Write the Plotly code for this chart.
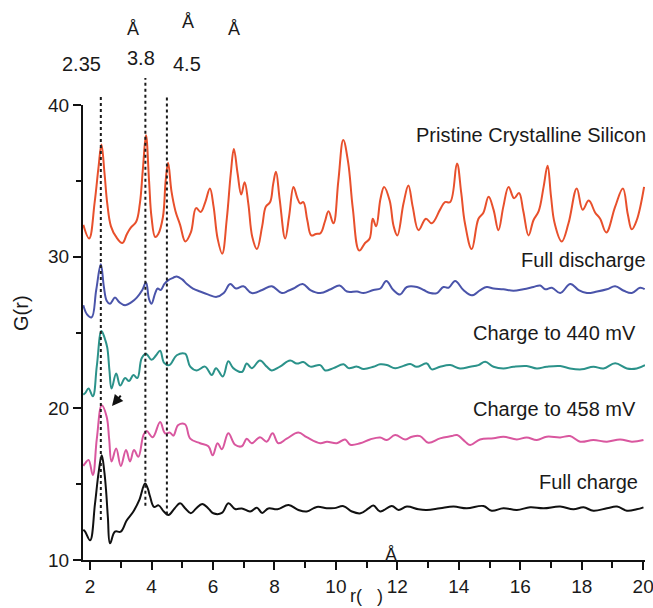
import plotly.graph_objects as go

# ---------------- data ----------------
r_red = [1.78, 1.97, 2.15, 2.27, 2.37, 2.47, 2.56, 2.68, 2.85, 3.05, 3.2, 3.32, 3.5, 3.62, 3.72, 3.82,
         3.92, 4.0, 4.12, 4.22, 4.37, 4.46, 4.54, 4.65, 4.78, 4.93, 5.1, 5.28, 5.45, 5.6, 5.75, 5.9,
         6.02, 6.15, 6.3, 6.45, 6.58, 6.68, 6.8, 6.92, 7.03, 7.15, 7.28, 7.43, 7.6, 7.72, 7.86, 7.96,
         8.05, 8.17, 8.35, 8.48, 8.62, 8.74, 8.84, 8.94, 9.07, 9.2, 9.35, 9.5, 9.64, 9.76, 9.92, 10.08,
         10.24, 10.4, 10.55, 10.76, 10.95, 11.1, 11.2, 11.31, 11.45, 11.57, 11.75, 11.88, 12.0, 12.2,
         12.36, 12.5, 12.69, 12.93, 13.12, 13.39, 13.55, 13.72, 13.94, 14.08, 14.2, 14.42, 14.64, 14.8,
         14.97, 15.13, 15.29, 15.45, 15.62, 15.8, 15.96, 16.1, 16.27, 16.43, 16.6, 16.76, 16.89, 17.0,
         17.12, 17.35, 17.57, 17.84, 18.03, 18.23, 18.44, 18.6, 18.8, 19.09, 19.34, 19.5, 19.63, 19.79,
         20.03]
g_red = [32.1, 31.2, 33.6, 35.8, 37.4, 35.5, 33.5, 32.0, 31.3, 30.9, 31.5, 31.9, 32.3, 33.5, 35.8, 38.0,
         35.0, 32.6, 31.3, 31.5, 32.6, 35.0, 36.2, 34.3, 33.0, 32.1, 31.0, 31.6, 33.2, 32.95, 33.6, 34.5,
         33.3, 31.2, 30.2, 32.5, 35.5, 37.1, 35.5, 34.1, 34.9, 33.5, 31.3, 30.5, 32.0, 33.3, 33.6, 34.8,
         35.6, 33.8, 31.2, 32.7, 34.6, 33.9, 33.5, 33.6, 32.4, 31.4, 31.5, 31.55, 32.3, 33.0, 32.2, 35.0,
         37.7, 36.2, 33.2, 30.4, 30.9, 31.2, 32.5, 32.0, 33.8, 34.6, 33.7, 32.0, 31.4, 33.5,
         34.7, 33.3, 31.75, 32.5, 32.2, 33.1, 33.6, 33.6, 36.15, 34.2, 32.2, 30.5, 32.5, 32.9,
         33.95, 33.1, 31.75, 33.3, 34.6, 33.85, 34.2, 33.0, 31.4, 32.4, 33.0, 34.6, 36.0, 34.0,
         32.2, 31.0, 32.2, 34.5, 33.1, 33.7, 32.9, 32.5, 31.6, 33.3, 34.5, 32.8, 31.8, 32.4,
         34.6]

r_blue = [1.78, 1.9, 2.05, 2.2, 2.35, 2.45, 2.54, 2.65, 2.81, 2.95, 3.14, 3.35, 3.52, 3.7, 3.82, 3.92,
          4.0, 4.12, 4.2, 4.3, 4.42, 4.55, 4.7, 4.82, 5.0, 5.15, 5.35, 5.58, 5.85, 6.12, 6.35, 6.56,
          6.75, 6.99, 7.26, 7.6, 7.91, 8.24, 8.45, 8.62, 8.92, 9.17, 9.49, 9.83, 10.12, 10.36, 10.69,
          10.9, 11.22, 11.45, 11.64, 11.87, 12.09, 12.31, 12.64, 12.86, 13.07, 13.29, 13.5, 13.67, 13.88,
          14.15, 14.42, 14.7, 14.91, 15.13, 15.45, 15.78, 16.1, 16.43, 16.65, 16.81, 17.03, 17.3, 17.63,
          17.9, 18.17, 18.5, 18.82, 19.09, 19.37, 19.63, 19.9, 20.05]
g_blue = [26.8, 26.2, 26.0, 27.8, 29.5, 28.0, 27.1, 26.9, 27.3, 27.0, 26.8, 27.0, 27.3, 27.8, 28.3, 27.2,
          26.9, 27.6, 27.9, 27.8, 28.2, 28.45, 28.6, 28.7, 28.5, 28.2, 27.9, 27.7, 27.5, 27.35, 27.6, 28.2,
          27.9, 28.05, 27.6, 27.8, 28.05, 27.6, 27.75, 27.9, 28.2, 27.8, 27.6, 27.85, 28.1, 27.7, 27.7,
          27.6, 27.8, 27.9, 28.4, 27.8, 27.5, 28.0, 28.0, 27.8, 27.6, 27.6, 28.0, 27.95, 28.4,
          27.8, 27.45, 27.8, 28.0, 27.9, 27.85, 27.75, 27.85, 28.0, 28.1, 27.85, 27.95, 27.6, 28.2,
          27.8, 27.6, 27.7, 27.85, 28.05, 27.75, 27.6, 27.95, 27.85]

r_teal = [1.78, 1.84, 1.95, 2.09, 2.22, 2.37, 2.48, 2.56, 2.63, 2.7, 2.85, 2.98, 3.14, 3.27, 3.41, 3.54,
          3.68, 3.82, 4.0, 4.15, 4.28, 4.41, 4.58, 4.82, 5.09, 5.26, 5.47, 5.74, 5.96, 6.1, 6.32, 6.5,
          6.66, 6.94, 7.1, 7.26, 7.53, 7.75, 7.91, 8.18, 8.51, 8.73, 8.94, 9.17, 9.49, 9.65, 9.92, 10.25,
          10.41, 10.69, 10.9, 11.22, 11.44, 11.66, 11.93, 12.2, 12.42, 12.63, 12.96, 13.12, 13.39, 13.72,
          14.04, 14.37, 14.64, 14.86, 15.13, 15.45, 15.78, 16.21, 16.54, 16.86, 17.3, 17.62, 18.0, 18.38,
          18.71, 19.09, 19.47, 19.79, 20.06]
g_teal = [20.9, 21.0, 21.3, 20.8, 22.8, 25.1, 24.6, 24.0, 22.5, 21.3, 22.3, 21.5, 22.0, 21.8, 22.2, 22.0,
          23.3, 23.6, 23.2, 23.5, 23.8, 23.0, 22.85, 23.5, 23.6, 22.75, 22.5, 22.75, 22.2, 22.65, 22.1, 23.1,
          22.65, 22.4, 22.95, 22.65, 23.15, 22.75, 22.5, 22.75, 23.15, 22.95, 23.05, 22.75, 22.85, 22.5, 22.65, 22.9,
          22.65, 22.75, 22.6, 22.74, 22.9, 22.86, 22.64, 22.8, 22.92, 22.74, 22.96, 22.57, 22.74, 22.85,
          22.63, 22.74, 22.85, 23.07, 22.74, 22.63, 22.74, 22.79, 22.63, 22.74, 22.79, 22.63, 22.57, 22.74,
          22.63, 22.97, 22.63, 22.63, 22.85]

r_pink = [1.78, 1.84, 1.95, 2.09, 2.22, 2.38, 2.54, 2.62, 2.7, 2.85, 3.0, 3.17, 3.3, 3.43, 3.57, 3.74,
          3.84, 4.04, 4.28, 4.44, 4.6, 4.71, 4.87, 5.09, 5.26, 5.58, 5.85, 5.99, 6.15, 6.29, 6.5, 6.72,
          6.94, 7.1, 7.26, 7.53, 7.75, 7.94, 8.13, 8.4, 8.78, 9.05, 9.49, 9.71, 10.03, 10.3, 10.47, 10.79,
          11.11, 11.44, 11.66, 11.93, 12.25, 12.47, 12.74, 13.01, 13.39, 13.77, 13.94, 14.21, 14.37, 14.69,
          15.13, 15.45, 15.89, 16.21, 16.54, 16.86, 17.3, 17.62, 17.95, 18.38, 18.82, 19.25, 19.63, 20.01]
g_pink = [16.2, 16.37, 16.6, 15.6, 18.0, 20.2, 19.45, 18.0, 16.5, 17.35, 16.2, 17.25, 16.5, 17.25, 16.8, 18.25,
          18.5, 18.1, 19.1, 18.35, 18.4, 18.2, 18.9, 18.95, 18.0, 17.7, 17.5, 16.9, 17.7, 17.3, 18.35, 17.6,
          17.5, 18.0, 17.7, 18.1, 17.8, 18.35, 17.7, 18.0, 18.4, 18.1, 17.7, 17.8, 17.7, 17.95, 17.6, 17.7,
          17.95, 18.08, 17.91, 18.24, 17.95, 18.13, 18.17, 17.73, 18.02, 18.17, 18.24, 17.8, 17.58, 17.95,
          18.02, 18.13, 17.95, 18.08, 17.91, 18.13, 18.08, 18.17, 17.8, 17.91, 17.8, 17.95, 17.8, 17.91]

r_black = [1.78, 1.84, 2.0, 2.16, 2.28, 2.38, 2.46, 2.52, 2.58, 2.65, 2.81, 3.0, 3.19, 3.41, 3.6, 3.79,
           3.88, 3.95, 4.08, 4.23, 4.4, 4.55, 4.75, 4.93, 5.1, 5.28, 5.45, 5.65, 5.85, 6.01, 6.29, 6.5,
           6.72, 6.94, 7.21, 7.43, 7.6, 7.8, 8.1, 8.46, 8.78, 9.05, 9.38, 9.7, 9.95, 10.25, 10.52, 10.8,
           11.06, 11.22, 11.44, 11.82, 12.04, 12.31, 12.69, 12.96, 13.39, 13.83, 14.26, 14.8, 15.07, 15.45,
           15.89, 16.32, 16.76, 17.3, 17.73, 18.06, 18.38, 18.82, 19.15, 19.47, 19.79, 20.01]
g_black = [12.0, 11.87, 11.3, 13.7, 15.8, 16.9, 15.9, 14.6, 12.8, 11.1, 11.87, 11.87, 12.6, 13.2, 13.95, 15.05,
           14.7, 14.2, 13.5, 13.6, 13.2, 12.97, 13.4, 13.74, 13.4, 13.08, 13.4, 13.7, 13.4, 13.08, 13.1, 13.74,
           13.36, 13.4, 13.2, 13.45, 13.1, 13.4, 13.35, 13.63, 13.3, 13.2, 13.5, 13.42, 13.42, 13.55, 13.2, 13.08,
           13.4, 13.6, 13.2, 13.56, 13.3, 13.52, 13.34, 13.3, 13.41, 13.52, 13.41, 13.56, 13.25, 13.41,
           13.3, 13.47, 13.41, 13.52, 13.34, 13.47, 13.25, 13.41, 13.52, 13.25, 13.34, 13.47]

series_names = ["Pristine Crystalline Silicon", "Full discharge", "Charge to 440 mV",
                "Charge to 458 mV", "Full charge"]
series_colors = ["#e8502c", "#4a54aa", "#2b928a", "#d9579f", "#111111"]

# reference peak positions (dotted lines): r, bottom G, top G
ref_r = [2.35, 3.8, 4.5]
ref_bottom = [12.64, 13.58, 13.0]
ref_top = [40.66, 41.78, 40.66]
ref_labels = ["2.35", "3.8", "4.5"]

x_ticks = [2, 4, 6, 8, 10, 12, 14, 16, 18, 20]
y_ticks = [10, 20, 30, 40]

# ---------------- figure ----------------
W, H = 653, 608
ML, MR, MT, MB = 83, 8, 105, 48
Y0, Y1 = 10, 40
X0, X1 = 1.77, 20.06

def py(g):  # data G -> paper y
    return (g - Y0) / (Y1 - Y0)

def px_paper(p):  # pixel x -> paper x
    return (p - ML) / (W - ML - MR)

def py_paper(p):  # pixel y -> paper y
    return (H - MB - p) / (H - MT - MB)

fig = go.Figure()
all_r = [r_red, r_blue, r_teal, r_pink, r_black]
all_g = [g_red, g_blue, g_teal, g_pink, g_black]
for rs, gs, name, col in zip(all_r, all_g, series_names, series_colors):
    fig.add_trace(go.Scatter(x=rs, y=gs, mode="lines", name=name,
                             line=dict(color=col, width=2, shape="spline", smoothing=1.1),
                             showlegend=False, hoverinfo="skip"))

FONT = "Liberation Sans, Arial, sans-serif"
shapes = []
for rr, b, t in zip(ref_r, ref_bottom, ref_top):
    shapes.append(dict(type="line", xref="x", yref="paper", x0=rr, x1=rr,
                       y0=py(b), y1=py(t), line=dict(color="#1a1a1a", width=2, dash="dot"),
                       layer="above"))

annotations = []
# curve labels (right aligned)
lab_pos = [(648, 135), (648, 260), (638, 333), (638, 409), (640, 482)]
for name, (xp, yp) in zip(series_names, lab_pos):
    annotations.append(dict(text=name, xref="paper", yref="paper",
                            x=px_paper(xp), y=py_paper(yp), xanchor="right", yanchor="middle",
                            showarrow=False, font=dict(family=FONT, size=20, color="#1a1a1a")))
# top peak labels
for lab, (xp, yp) in zip(ref_labels, [(81, 64), (140.5, 58), (187, 64)]):
    annotations.append(dict(text=lab, xref="paper", yref="paper",
                            x=px_paper(xp), y=py_paper(yp), xanchor="center", yanchor="middle",
                            showarrow=False, font=dict(family=FONT, size=20, color="#1a1a1a")))
# floating angstrom symbols
for (xp, yp) in [(133, 29), (187.5, 22), (234, 29), (391, 555)]:
    annotations.append(dict(text="Å", xref="paper", yref="paper",
                            x=px_paper(xp), y=py_paper(yp), xanchor="center", yanchor="middle",
                            showarrow=False, font=dict(family=FONT, size=18, color="#1a1a1a")))
# axis titles
annotations.append(dict(text="G(r)", xref="paper", yref="paper", x=px_paper(21), y=py_paper(313),
                        xanchor="center", yanchor="middle", textangle=-90, showarrow=False,
                        font=dict(family=FONT, size=20, color="#1a1a1a")))
annotations.append(dict(text="r(   )", xref="paper", yref="paper", x=px_paper(366), y=py_paper(596),
                        xanchor="center", yanchor="middle", showarrow=False,
                        font=dict(family=FONT, size=18, color="#1a1a1a")))
# small arrow
annotations.append(dict(text="", x=1.77 + (112 - 83) / 30.72, y=10 + (560 - 406) / 15.17,
                        xref="x", yref="y", ax=10, ay=-12, showarrow=True, arrowhead=2,
                        arrowsize=1.1, arrowwidth=2, arrowcolor="#111"))

axis_font = dict(family=FONT, size=19, color="#1a1a1a")
fig.update_layout(
    width=W, height=H, margin=dict(l=ML, r=MR, t=MT, b=MB, autoexpand=False),
    paper_bgcolor="white", plot_bgcolor="white",
    shapes=shapes, annotations=annotations,
    xaxis=dict(range=[X0, X1], tickvals=x_ticks, ticktext=[str(v) for v in x_ticks],
               ticks="outside", ticklen=8, tickwidth=2, tickcolor="#111",
               ticklabeloverflow="allow", automargin=False,
               showline=True, linewidth=2, linecolor="#111", showgrid=False, zeroline=False,
               tickfont=axis_font, minor=dict(dtick=1, tick0=1, ticks="outside", ticklen=6,
                                              tickwidth=2, tickcolor="#111")),
    yaxis=dict(range=[Y0, Y1], tickvals=y_ticks, ticktext=[str(v) for v in y_ticks],
               ticks="outside", ticklen=8, tickwidth=2, tickcolor="#111", automargin=False,
               showline=True, linewidth=2, linecolor="#111", showgrid=False, zeroline=False,
               tickfont=axis_font, minor=dict(dtick=5, tick0=15, ticks="outside", ticklen=5,
                                              tickwidth=2, tickcolor="#111")),
)

fig.write_html("out.html")
